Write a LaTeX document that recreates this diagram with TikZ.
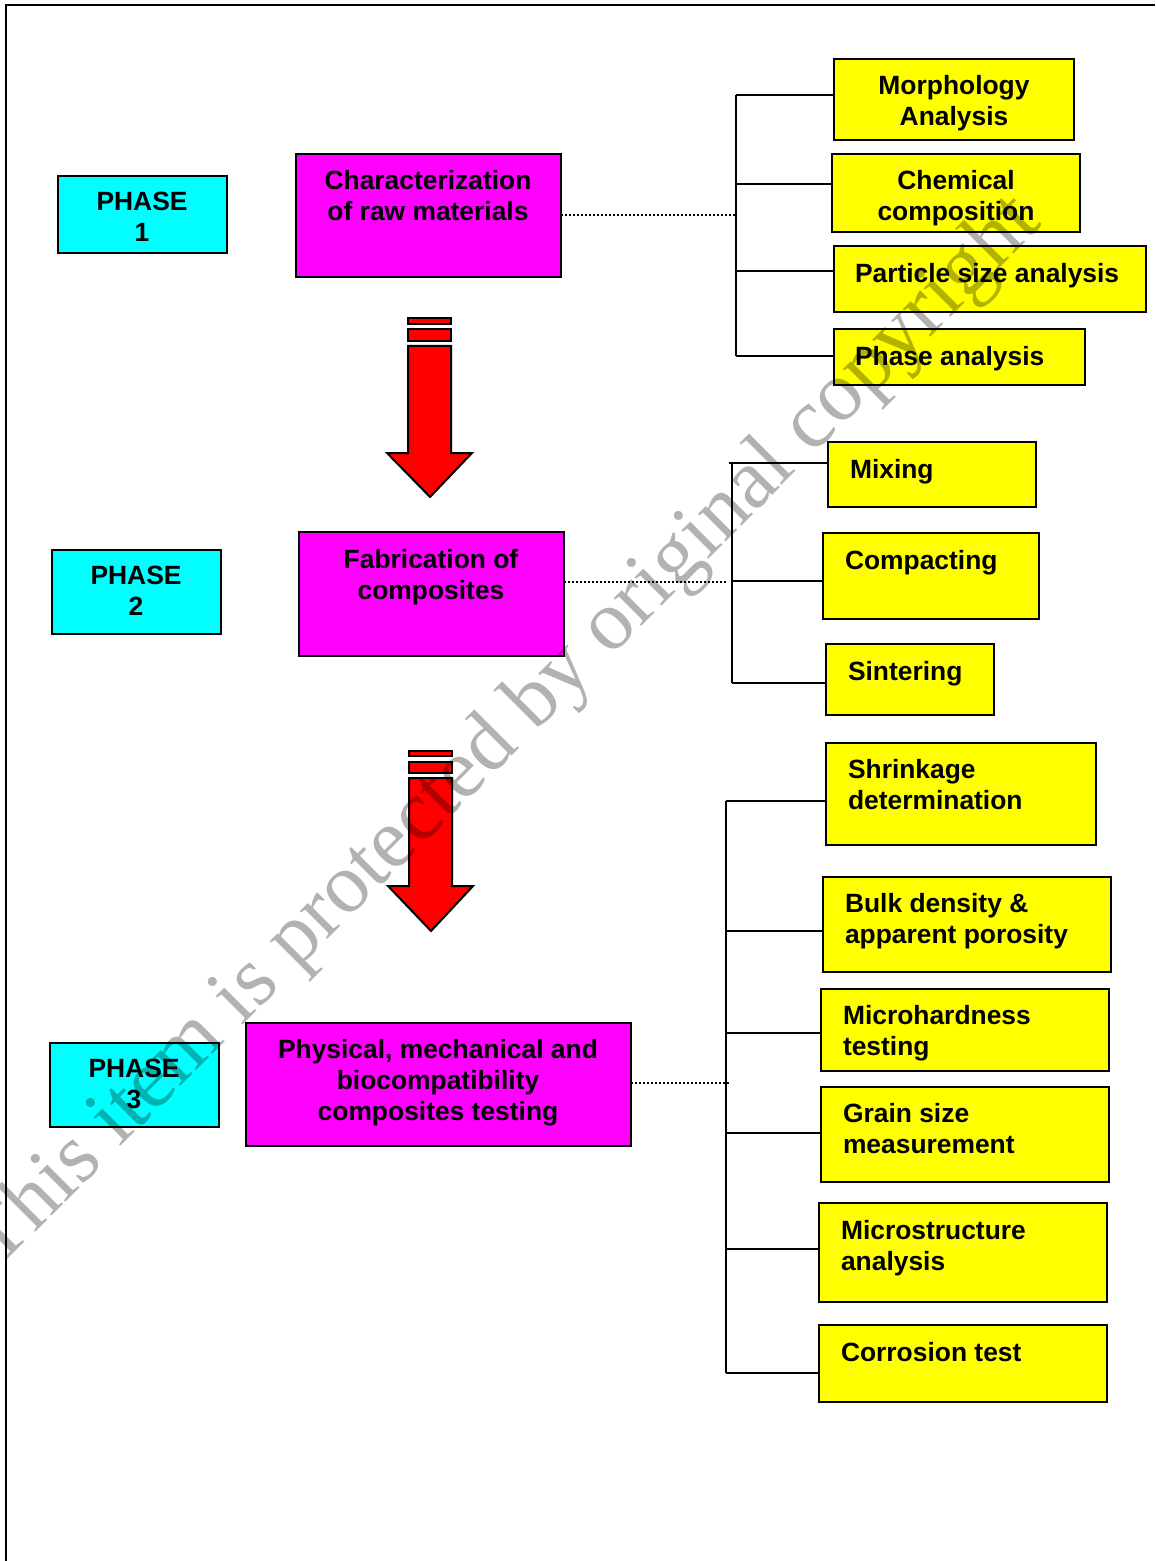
\documentclass[tikz,border=0pt]{standalone}
\usepackage{fontspec}
\setmainfont{Liberation Sans}
\newfontfamily\wmfont{Liberation Serif}
\definecolor{phcyan}{RGB}{0,255,255}
\definecolor{phmag}{RGB}{255,0,255}
\definecolor{phyel}{RGB}{255,255,0}
\definecolor{phred}{RGB}{255,0,0}
\newcommand{\mkbox}[6]{\node[#2,minimum width={(#5-#3)*0.5pt},minimum height={(#6-#4)*0.5pt}] (#1) at (#3,#4) {};}
\begin{document}
\begin{tikzpicture}[x=0.5pt,y=-0.5pt,
  box/.style={draw=black,line width=1pt,inner sep=0pt,outer sep=0pt,anchor=north west},
  phasebox/.style={box,fill=phcyan},
  mainbox/.style={box,fill=phmag},
  taskbox/.style={box,fill=phyel},
  lbl/.style={font=\bfseries\fontsize{13.2pt}{15.6pt}\selectfont,inner sep=0pt,outer sep=0pt,align=center,anchor=north},
  lbll/.style={lbl,align=left,anchor=north west},
  conn/.style={line width=1pt,draw=black},
  dotconn/.style={line width=1.4pt,draw=black,dash pattern=on 1pt off 1pt},
  bigarrow/.style={fill=phred,draw=black,line width=1pt,line join=miter}
]
\useasboundingbox (0,0) rectangle (1155,1561);
\fill[white] (0,0) rectangle (1155,1561);
% frame
\draw[line width=1pt] (6,1561) -- (6,5) -- (1155,5);

% phase boxes
\mkbox{ph1}{phasebox}{58}{176}{227}{253}
\mkbox{ph2}{phasebox}{52}{550}{221}{634}
\mkbox{ph3}{phasebox}{50}{1043}{219}{1127}
\node[lbl] (ph1t) at (142,192) {PHASE\\1};
\node[lbl] (ph2t) at (136,566) {PHASE\\2};
\node[lbl] (ph3t) at (134,1059) {PHASE\\3};

% main boxes
\mkbox{char}{mainbox}{296}{154}{561}{277}
\mkbox{fab}{mainbox}{299}{532}{564}{656}
\mkbox{phys}{mainbox}{246}{1023}{631}{1146}
\node[lbl] (chart) at (428,170) {Characterization\\of raw materials};
\node[lbl] (fabt) at (431,549) {Fabrication of\\composites};
\node[lbl] (physt) at (438,1039) {Physical, mechanical and\\biocompatibility\\composites testing};

% phase 1 tasks
\mkbox{morph}{taskbox}{834}{59}{1074}{140}
\mkbox{chem}{taskbox}{832}{154}{1080}{232}
\mkbox{part}{taskbox}{834}{246}{1146}{312}
\mkbox{phan}{taskbox}{834}{329}{1085}{385}
\node[lbl] (morpht) at (954,75) {Morphology\\Analysis};
\node[lbl] (chemt) at (956,170) {Chemical\\composition};
\node[lbll] (partt) at (855,263) {Particle size analysis};
\node[lbll] (phant) at (855,346) {Phase analysis};

% phase 2 tasks
\mkbox{mix}{taskbox}{828}{442}{1036}{507}
\mkbox{comp}{taskbox}{823}{533}{1039}{619}
\mkbox{sint}{taskbox}{826}{644}{994}{715}
\node[lbll] (mixt) at (850,459) {Mixing};
\node[lbll] (compt) at (845,550) {Compacting};
\node[lbll] (sintt) at (848,661) {Sintering};

% phase 3 tasks
\mkbox{shr}{taskbox}{826}{743}{1096}{845}
\mkbox{bulk}{taskbox}{823}{877}{1111}{972}
\mkbox{micro}{taskbox}{821}{989}{1109}{1071}
\mkbox{grain}{taskbox}{821}{1087}{1109}{1182}
\mkbox{mstr}{taskbox}{819}{1203}{1107}{1302}
\mkbox{corr}{taskbox}{819}{1325}{1107}{1402}
\node[lbll] (shrt) at (848,759) {Shrinkage\\determination};
\node[lbll] (bulkt) at (845,893) {Bulk density \&\\apparent porosity};
\node[lbll] (microt) at (843,1005) {Microhardness\\testing};
\node[lbll] (graint) at (843,1103) {Grain size\\measurement};
\node[lbll] (mstrt) at (841,1220) {Microstructure\\analysis};
\node[lbll] (corrt) at (841,1342) {Corrosion test};

% brackets phase 1
\coordinate (a1) at (736,95);
\coordinate (a2) at (736,184);
\coordinate (a3) at (736,271);
\coordinate (a4) at (736,356);
\coordinate (ad) at (736,215);
\draw[conn] (a1) -- (a4);
\draw[conn] (a1) -- (a1 -| morph.west);
\draw[conn] (a2) -- (a2 -| chem.west);
\draw[conn] (a3) -- (a3 -| part.west);
\draw[conn] (a4) -- (a4 -| phan.west);
\draw[dotconn] (char.east |- ad) -- (ad);

% brackets phase 2
\coordinate (b1) at (732,463);
\coordinate (b1s) at (729,463);
\coordinate (b2) at (732,581);
\coordinate (b3) at (732,683);
\coordinate (bd) at (728,582);
\draw[conn] (b1) -- (b3);
\draw[conn] (b1s) -- (b1s -| mix.west);
\draw[conn] (b2) -- (b2 -| comp.west);
\draw[conn] (b3) -- (b3 -| sint.west);
\draw[dotconn] (fab.east |- bd) -- (bd);

% brackets phase 3
\coordinate (c1) at (726,801);
\coordinate (c2) at (726,931);
\coordinate (c3) at (726,1033);
\coordinate (c4) at (726,1133);
\coordinate (c5) at (726,1249);
\coordinate (c6) at (726,1373);
\coordinate (cd) at (731,1083);
\draw[conn] (c1) -- (c6);
\draw[conn] (c1) -- (c1 -| shr.west);
\draw[conn] (c2) -- (c2 -| bulk.west);
\draw[conn] (c3) -- (c3 -| micro.west);
\draw[conn] (c4) -- (c4 -| grain.west);
\draw[conn] (c5) -- (c5 -| mstr.west);
\draw[conn] (c6) -- (c6 -| corr.west);
\draw[dotconn] (phys.east |- cd) -- (cd);

% big red arrows
\draw[bigarrow] (408,318) rectangle (451,324);
\draw[bigarrow] (408,329) rectangle (451,341);
\draw[bigarrow] (408,346) -- (451,346) -- (451,453) -- (472,453) -- (430,497) -- (387,453) -- (408,453) -- cycle;
\draw[bigarrow] (409,751) rectangle (452,756);
\draw[bigarrow] (409,762) rectangle (452,773);
\draw[bigarrow] (409,778) -- (452,778) -- (452,886) -- (473,886) -- (431,931) -- (388,886) -- (409,886) -- cycle;

% watermark
\begin{scope}
\clip (0,0) rectangle (1155,1561);
\node[font=\wmfont\fontsize{42.5pt}{50pt}\selectfont,text=black,text opacity=0.3,rotate=45,inner sep=0pt] (wm) at (506,733) {This item is protected by original copyright};
\end{scope}
\end{tikzpicture}
\end{document}
